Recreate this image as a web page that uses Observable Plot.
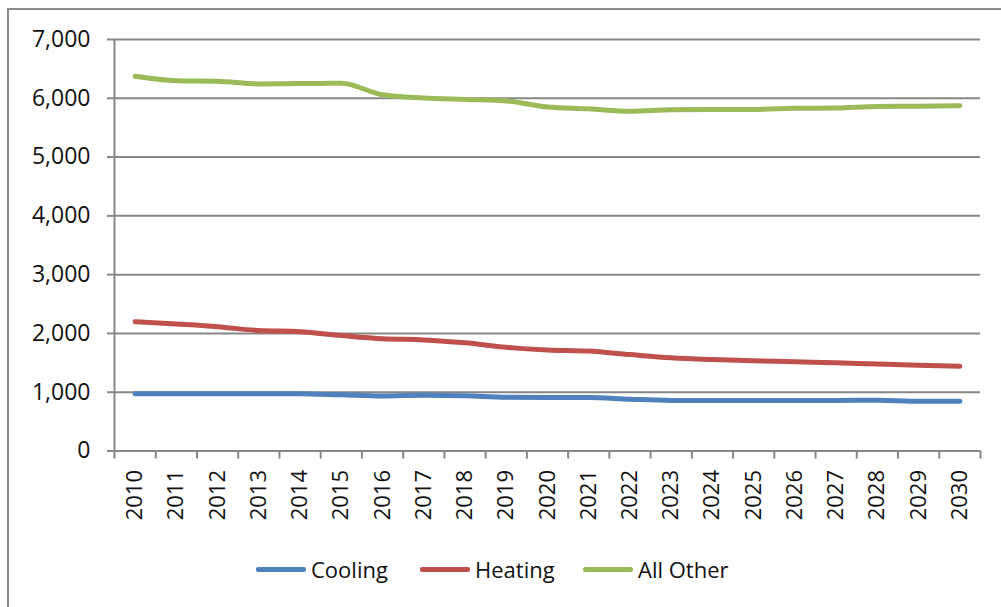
<!DOCTYPE html>
<html>
<head>
<meta charset="utf-8">
<script src="https://cdn.jsdelivr.net/npm/d3@7"></script>
<script src="https://cdn.jsdelivr.net/npm/@observablehq/plot@0.6"></script>
<style>
  html, body { margin: 0; padding: 0; background: #fff; }
  #wrap { position: relative; width: 1001px; height: 607px; overflow: hidden; font-family: "Open Sans", sans-serif; }
  #border { position: absolute; left: 7px; top: 8px; width: 1100px; height: 700px; border-left: 2px solid #8a8a8a; border-top: 2px solid #8a8a8a; box-sizing: border-box; }
  #chart { position: absolute; left: 0; top: 0; }
  .leg { position: absolute; top: 554px; height: 30px; display: flex; align-items: center; font-size: 22px; color: #111; }
  .sw { width: 50px; height: 5px; margin-right: 5px; border-radius: 2px; }
</style>
</head>
<body>
<div id="wrap">
  <div id="border"></div>
  <div id="chart"></div>
</div>
<script>
const years = d3.range(2010, 2031);
const cooling = [975, 975, 975, 975, 975, 955, 935, 950, 940, 915, 910, 910, 880, 860, 860, 860, 860, 860, 865, 845, 845];
const heating = [2200, 2160, 2115, 2050, 2030, 1965, 1910, 1890, 1840, 1765, 1720, 1700, 1640, 1585, 1555, 1535, 1520, 1500, 1480, 1460, 1440];
const allOther = [6375, 6300, 6290, 6245, 6250, 6255, 6060, 6005, 5980, 5955, 5850, 5820, 5780, 5805, 5810, 5810, 5830, 5835, 5860, 5865, 5875];
const seriesNames = ["Cooling", "Heating", "All Other"];
const seriesColors = ["#4F81BD", "#C0504D", "#9BBB59"];
const yTicks = [0, 1000, 2000, 3000, 4000, 5000, 6000, 7000];

const seriesValues = [cooling, heating, allOther];
const data = seriesNames.flatMap((name, i) => years.map((yr, j) => ({series: name, year: yr, value: seriesValues[i][j]})));
const bounds = d3.range(2009.5, 2031, 1);
const grid = "#878787";

const chart = Plot.plot({
  width: 1001,
  height: 540,
  marginTop: 39,
  marginLeft: 114,
  marginRight: 21,
  marginBottom: 89.5,
  style: {fontFamily: "Open Sans, sans-serif", fontSize: "22px", color: "#111", background: "transparent"},
  x: {type: "linear", domain: [2009.5, 2030.5]},
  y: {domain: [0, 7000]},
  color: {domain: seriesNames, range: seriesColors},
  marks: [
    Plot.gridY(yTicks.filter(d => d > 0), {stroke: grid, strokeOpacity: 1, strokeWidth: 2}),
    Plot.ruleY([0], {stroke: grid, strokeWidth: 2}),
    Plot.ruleX([2009.5], {y1: 0, y2: 7000, stroke: grid, strokeWidth: 2}),
    Plot.axisY(yTicks, {tickSize: 7, tickPadding: 17, stroke: grid, strokeWidth: 2, tickFormat: d3.format(","), fontSize: 23, label: null}),
    Plot.axisX(bounds, {tickSize: 8, stroke: grid, strokeWidth: 2, tickFormat: () => "", label: null}),
    Plot.axisX(years, {tickSize: 0, tickPadding: 19, tickRotate: -90, tickFormat: d => String(d), fontSize: 22, label: null}),
    Plot.lineY(data, {x: "year", y: "value", stroke: "series", z: "series", strokeWidth: 5, curve: "monotone-x", strokeLinecap: "round"})
  ]
});
document.getElementById("chart").appendChild(chart);

const legendLeft = [256, 420, 583];
const wrap = document.getElementById("wrap");
seriesNames.forEach((name, i) => {
  const d = document.createElement("div");
  d.className = "leg";
  d.style.left = legendLeft[i] + "px";
  d.innerHTML = `<div class="sw" style="background:${seriesColors[i]}"></div><span>${name}</span>`;
  wrap.appendChild(d);
});
</script>
</body>
</html>
